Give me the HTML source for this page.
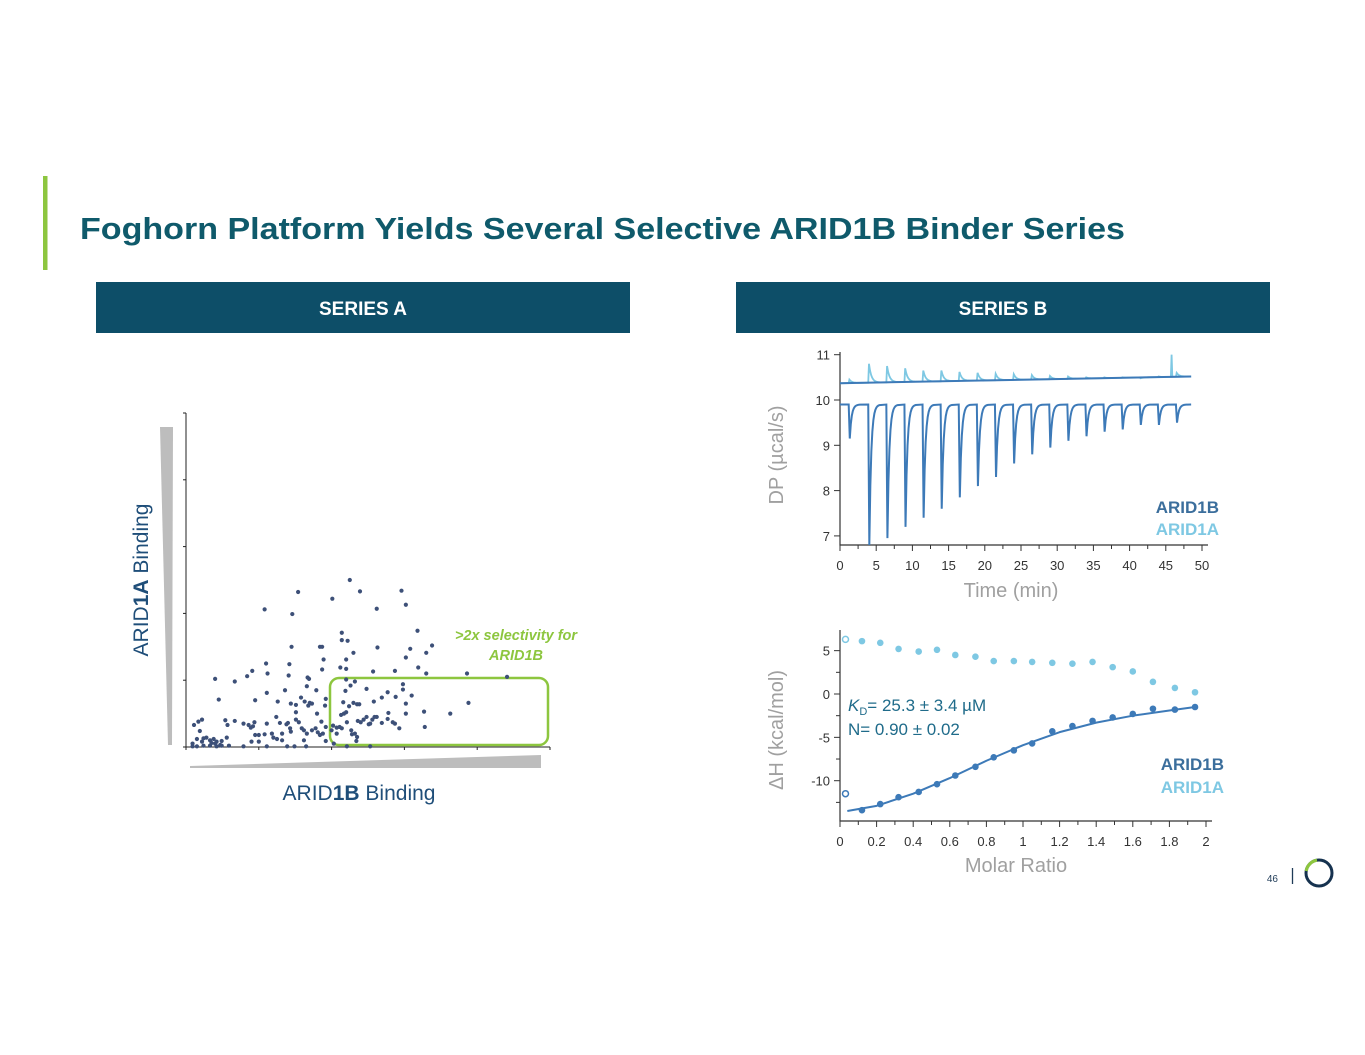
<!DOCTYPE html>
<html><head><meta charset="utf-8"><style>
html,body{margin:0;padding:0;background:#fff;}
svg{display:block;font-family:"Liberation Sans",Arial,sans-serif;}
</style></head><body>
<svg id="s" width="1365" height="1055" viewBox="0 0 1365 1055" xmlns="http://www.w3.org/2000/svg">
<rect x="43" y="176" width="4.5" height="94" fill="#8dc63f"/>
<text x="80" y="239" font-size="31" font-weight="bold" fill="#0f5a6b" textLength="1045" lengthAdjust="spacingAndGlyphs">Foghorn Platform Yields Several Selective ARID1B Binder Series</text>
<rect x="96" y="282" width="534" height="51" fill="#0d4e68"/>
<text x="363" y="315" font-size="19" font-weight="bold" fill="#fff" text-anchor="middle">SERIES A</text>
<rect x="736" y="282" width="534" height="51" fill="#0d4e68"/>
<text x="1003" y="315" font-size="19" font-weight="bold" fill="#fff" text-anchor="middle">SERIES B</text>

<g id="scatter">
<polygon points="160,427 173,427 172,745 168,745" fill="#bdbdbd"/>
<polygon points="190,766 541,755 541,768 190,768" fill="#bdbdbd"/>
<text transform="translate(148,580) rotate(-90)" font-size="21" fill="#1f4e79" text-anchor="middle">ARID<tspan font-weight="bold">1A</tspan> Binding</text>
<text x="359" y="800" font-size="21" fill="#1f4e79" text-anchor="middle">ARID<tspan font-weight="bold">1B</tspan> Binding</text>
<rect x="330" y="678" width="218" height="67" rx="9" fill="none" stroke="#8dc63f" stroke-width="2.5"/>
<text x="516" y="640" font-size="14.5" font-weight="bold" font-style="italic" fill="#8dc63f" text-anchor="middle">&gt;2x selectivity for</text>
<text x="516" y="660" font-size="14.5" font-weight="bold" font-style="italic" fill="#8dc63f" text-anchor="middle">ARID1B</text>
</g>

<g id="itc1">
<text transform="translate(783,455) rotate(-90)" font-size="20" fill="#a0a0a0" text-anchor="middle">DP (µcal/s)</text>
<text x="1011" y="597" font-size="20" fill="#a0a0a0" text-anchor="middle">Time (min)</text>
<text x="1219" y="513" font-size="17" font-weight="bold" fill="#3b6e9c" text-anchor="end">ARID1B</text>
<text x="1219" y="535" font-size="17" font-weight="bold" fill="#7ec8e3" text-anchor="end">ARID1A</text>
</g>

<g id="itc2">
<text transform="translate(783,730) rotate(-90)" font-size="20" fill="#a0a0a0" text-anchor="middle">ΔH (kcal/mol)</text>
<text x="1016" y="872" font-size="20" fill="#a0a0a0" text-anchor="middle">Molar Ratio</text>
<text x="848" y="711" font-size="17" fill="#1f6b8a"><tspan font-style="italic">K</tspan><tspan font-size="11" dy="4">D</tspan><tspan dy="-4">= 25.3 ± 3.4 µM</tspan></text>
<text x="848" y="735" font-size="17" fill="#1f6b8a">N= 0.90 ± 0.02</text>
<text x="1224" y="770" font-size="17" font-weight="bold" fill="#3b6e9c" text-anchor="end">ARID1B</text>
<text x="1224" y="793" font-size="17" font-weight="bold" fill="#7ec8e3" text-anchor="end">ARID1A</text>
</g>

<text x="1278" y="882" font-size="10" fill="#1f3b57" text-anchor="end">46</text>
<line x1="1292.5" y1="868" x2="1292.5" y2="884" stroke="#1f3b57" stroke-width="1.3"/>
<circle cx="1319" cy="873" r="13" fill="none" stroke="#16324f" stroke-width="3"/>
<path d="M1306.2,871 A13,13 0 0 1 1317,860.2" fill="none" stroke="#8dc63f" stroke-width="3.2"/>
</svg>
<script>
const NS="http://www.w3.org/2000/svg";
// ---- Scatter (Series A) data, arbitrary binding units 0..50 ----
const scatterB=[22.5,15.4,23.9,29.6,20.1,10.8,14.6,26.2,30.2,21.4,21.4,22.2,31.8,14.5,18.4,18.7,26.3,23.0,30.8,33.8,33.0,11.0,14.2,18.9,22.0,30.2,21.2,22.0,18.7,9.1,8.4,11.2,14.1,25.7,28.7,31.9,33.0,38.6,44.1,4.0,6.7,16.7,16.9,22.0,23.2,22.6,16.6,13.6,11.1,17.9,24.8,27.7,29.8,29.8,21.9,4.5,9.5,12.6,14.4,15.8,16.3,17.0,17.3,19.2,21.6,23.0,23.5,23.8,25.8,26.9,28.8,31.0,30.2,38.8,16.8,15.1,19.1,22.4,15.1,18.0,21.3,21.7,22.0,27.8,30.2,32.7,36.3,1.1,1.7,2.2,5.4,5.7,6.7,7.9,8.6,8.9,9.2,9.4,11.1,12.4,12.9,14.0,13.8,15.1,15.5,18.6,19.2,20.2,20.7,21.1,22.1,23.6,24.0,24.4,24.8,25.1,25.3,25.6,25.9,26.2,26.9,27.7,28.4,28.7,29.3,32.8,1.9,1.5,2.4,2.8,3.3,3.8,4.2,4.9,5.6,10.0,9.5,10.8,11.8,12.0,12.5,13.2,14.3,14.4,15.9,16.2,16.6,17.3,17.8,18.1,18.4,18.8,20.0,20.7,21.4,22.7,23.2,23.5,23.4,22.8,0.9,1.5,2.4,3.3,4.2,4.9,5.9,7.9,9.0,10.0,11.1,13.2,13.9,14.9,16.2,16.5,19.2,20.3,22.1,25.3,0.9,2.2,3.5,4.0,4.7];
const scatterA=[25.0,23.2,23.3,23.4,22.2,20.6,19.9,20.7,21.3,17.1,16.0,15.9,17.4,15.0,15.0,15.0,14.9,14.1,14.7,15.2,14.1,12.5,12.4,13.1,13.1,13.4,11.9,11.7,11.6,11.4,10.6,11.0,10.7,11.3,11.4,11.9,11.0,11.0,10.5,10.2,9.8,10.4,10.2,10.1,9.8,9.2,9.1,8.5,8.1,8.5,8.7,8.2,9.4,8.6,8.4,7.1,7.0,6.8,6.5,7.4,6.8,6.6,6.5,7.2,6.7,6.6,6.4,6.4,6.8,7.4,7.5,7.7,6.5,6.6,6.2,6.3,6.2,6.1,5.2,5.0,4.8,5.0,5.2,5.1,5.0,5.3,5.0,3.3,3.8,4.1,4.0,3.3,3.9,3.5,3.3,2.9,3.1,3.7,3.5,4.5,3.6,3.6,3.4,4.1,3.7,3.8,3.0,3.2,2.9,3.0,3.7,3.9,3.7,4.1,4.5,3.4,3.5,4.1,4.5,4.5,3.6,4.2,3.7,3.5,2.8,3.0,2.4,1.2,1.3,1.4,1.0,1.2,0.8,0.9,1.4,1.8,1.8,1.9,2.0,1.4,1.2,2.0,2.8,2.3,2.8,2.5,2.0,2.5,2.8,2.2,1.8,2.0,2.5,2.0,2.8,2.5,2.0,1.5,0.9,1.9,0.1,0.1,0.2,0.2,0.1,0.2,0.2,0.1,0.8,0.8,0.1,1.0,0.1,0.1,1.0,0.1,0.9,0.5,0.1,0.1,0.5,0.8,0.6,0.5,0.3];
const scatterTicks=[0,10,20,30,40,50];

// ---- Thermogram data ----
const injTimes=[1.2,3.9,6.4,8.9,11.4,13.9,16.4,18.9,21.4,23.9,26.4,28.9,31.4,33.9,36.4,38.9,41.4,43.9,46.4];
const arid1bMin=[9.15,6.8,6.95,7.2,7.4,7.6,7.85,8.1,8.3,8.6,8.8,8.95,9.1,9.2,9.3,9.35,9.45,9.45,9.5];
const arid1aPeak=[10.45,10.8,10.75,10.7,10.65,10.65,10.62,10.6,10.58,10.57,10.55,10.53,10.52,10.5,10.5,10.5,10.48,10.52,10.6];
const arid1aBaseStart=10.37, arid1aBaseEnd=10.52, arid1bBase=9.9;
const timeTicks=[0,5,10,15,20,25,30,35,40,45,50];
const dpTicks=[7,8,9,10,11];

// ---- Isotherm data ----
const ratioB=[0.12,0.22,0.32,0.43,0.53,0.63,0.74,0.84,0.95,1.05,1.16,1.27,1.38,1.49,1.6,1.71,1.83,1.94];
const dhB=[-13.4,-12.7,-11.9,-11.3,-10.4,-9.4,-8.4,-7.3,-6.5,-5.7,-4.3,-3.7,-3.1,-2.7,-2.3,-1.7,-1.8,-1.5];
const ratioA=[0.12,0.22,0.32,0.43,0.53,0.63,0.74,0.84,0.95,1.05,1.16,1.27,1.38,1.49,1.6,1.71,1.83,1.94];
const dhA=[6.1,5.9,5.2,4.9,5.1,4.5,4.3,3.8,3.8,3.7,3.6,3.5,3.7,3.1,2.6,1.4,0.7,0.2];
const openRatio=[0.03,0.03];
const openDh=[-11.5,6.3];
const fitRatio=[0.04,0.2,0.4,0.6,0.8,1.0,1.2,1.4,1.6,1.8,1.94];
const fitDh=[-13.5,-12.9,-11.5,-9.7,-7.7,-5.9,-4.4,-3.3,-2.5,-1.9,-1.5];
const ratioTicks=[0,0.2,0.4,0.6,0.8,1,1.2,1.4,1.6,1.8,2];
const dhTicks=[5,0,-5,-10];

function mk(parent,tag,attrs){const e=document.createElementNS(NS,tag);for(const k in attrs)e.setAttribute(k,attrs[k]);parent.appendChild(e);return e;}

// Scatter
(function(){
const g=document.getElementById('scatter');
const sx=v=>186+v*364/50, sy=v=>747-v*334/50;
const ax=mk(g,'path',{d:`M${sx(0)},${sy(50)}V${sy(0)}H${sx(50)}`,fill:'none',stroke:'#222','stroke-width':1});


scatterTicks.forEach(t=>{
 const a=mk(g,'line',{x1:sx(0)-3,x2:sx(0),y1:sy(t),y2:sy(t),stroke:'#222'});
 
 
 const b=mk(g,'line',{x1:sx(t),x2:sx(t),y1:sy(0),y2:sy(0)+3,stroke:'#222'});
 
 
});
scatterB.forEach((v,i)=>{
 const c=mk(g,'circle',{cx:sx(v),cy:sy(scatterA[i]),r:2.1,fill:'#3d5078'});
 
 
});
})();

// Thermogram
(function(){
const g=document.getElementById('itc1');
const sx=t=>840+t*362/50, sy=v=>400-(v-10)*45.3;
const ax=mk(g,'path',{d:`M840,352V545H1208`,fill:'none',stroke:'#333','stroke-width':1.2});


dpTicks.forEach(t=>{
 const l=mk(g,'line',{x1:834,x2:840,y1:sy(t),y2:sy(t),stroke:'#333'});
 
 
 const tx=mk(g,'text',{x:830,y:sy(t)+5,'font-size':13,fill:'#333','text-anchor':'end'});tx.textContent=t;
 
 
});
for(let t=0;t<=50;t+=2.5){
 const major=t%5===0;
 const l=mk(g,'line',{x1:sx(t),x2:sx(t),y1:545,y2:major?551:549,stroke:'#333'});
 
 
}
timeTicks.forEach(t=>{
 const tx=mk(g,'text',{x:sx(t),y:570,'font-size':13,fill:'#333','text-anchor':'middle'});tx.textContent=t;
 
 
});
const base=t=>arid1aBaseStart+(arid1aBaseEnd-arid1aBaseStart)*(t/48.5);
// ARID1A trace
let d=`M${sx(0)},${sy(base(0))}`;
injTimes.forEach((t,i)=>{
 d+=`L${sx(t)},${sy(base(t))}L${sx(t+0.1)},${sy(arid1aPeak[i])}`;
 for(let k=1;k<=10;k++){const tt=t+0.1+k*0.15;d+=`L${sx(tt)},${sy(base(tt)+(arid1aPeak[i]-base(t))*Math.exp(-k*0.45))}`;}
});
d+=`L${sx(45.7)},${sy(base(45.7))}L${sx(45.8)},${sy(11.0)}L${sx(45.9)},${sy(base(45.9))}L${sx(48.5)},${sy(base(48.5))}`;
const pa=mk(g,'path',{d:d,fill:'none',stroke:'#7ec8e3','stroke-width':1.8});


const bl=mk(g,'line',{x1:sx(0),y1:sy(base(0)),x2:sx(48.5),y2:sy(base(48.5)),stroke:'#3d7ab8','stroke-width':2});


// ARID1B trace
let d2=`M${sx(0)},${sy(arid1bBase)}`;
injTimes.forEach((t,i)=>{
 d2+=`L${sx(t)},${sy(arid1bBase)}L${sx(t+0.15)},${sy(arid1bMin[i])}`;
 for(let k=1;k<=10;k++){const tt=t+0.15+k*0.14;d2+=`L${sx(tt)},${sy(arid1bBase+(arid1bMin[i]-arid1bBase)*Math.exp(-k*0.55))}`;}
});
d2+=`L${sx(48.5)},${sy(arid1bBase)}`;
const pb=mk(g,'path',{d:d2,fill:'none',stroke:'#3d7ab8','stroke-width':2});


})();

// Isotherm
(function(){
const g=document.getElementById('itc2');
const sx=r=>840+r*183, sy=v=>694-v*8.67;
const ax=mk(g,'path',{d:`M840,630V821H1212`,fill:'none',stroke:'#333','stroke-width':1.2});


dhTicks.forEach(t=>{
 const l=mk(g,'line',{x1:834,x2:840,y1:sy(t),y2:sy(t),stroke:'#333'});
 
 
 const tx=mk(g,'text',{x:830,y:sy(t)+5,'font-size':13,fill:'#333','text-anchor':'end'});tx.textContent=t;
 
 
});
for(let t=-12.5;t<=5;t+=2.5){ if(t%5!==0){const l=mk(g,'line',{x1:836,x2:840,y1:sy(t),y2:sy(t),stroke:'#333'});
 
 }}
for(let k=0;k<=20;k++){
 const r=k/10;
 const l=mk(g,'line',{x1:sx(r),x2:sx(r),y1:821,y2:k%2===0?827:825,stroke:'#333'});
 
 
}
ratioTicks.forEach(t=>{
 const tx=mk(g,'text',{x:sx(t),y:846,'font-size':13,fill:'#333','text-anchor':'middle'});tx.textContent=t;
 
 
});
const fit=mk(g,'polyline',{points:fitRatio.map((r,i)=>sx(r)+','+sy(fitDh[i])).join(' '),fill:'none',stroke:'#3d7ab8','stroke-width':2,'stroke-linejoin':'round'});


ratioA.forEach((r,i)=>{
 const c=mk(g,'circle',{cx:sx(r),cy:sy(dhA[i]),r:3.3,fill:'#7ec8e3'});
 
 
});
ratioB.forEach((r,i)=>{
 const c=mk(g,'circle',{cx:sx(r),cy:sy(dhB[i]),r:3.3,fill:'#3d7ab8'});
 
 
});
openRatio.forEach((r,i)=>{
 const c=mk(g,'circle',{cx:sx(r),cy:sy(openDh[i]),r:3,fill:'#fff',stroke:i===0?'#3d7ab8':'#7ec8e3','stroke-width':1.5});
 
 
});
})();
</script>
</body></html>
